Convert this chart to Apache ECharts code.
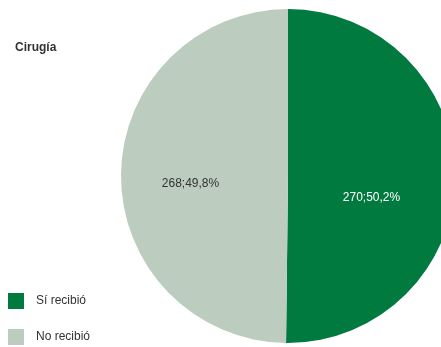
<!DOCTYPE html>
<html>
<head>
<meta charset="utf-8">
<script src="https://cdn.jsdelivr.net/npm/echarts@6/dist/echarts.min.js"></script>
<style>html,body{margin:0;padding:0;background:#fff}#c{width:441px;height:347px}</style>
</head>
<body>
<div id="c"></div>
<script>
const title = 'Cirugía';
const categories = ['Sí recibió', 'No recibió'];
const values = [270, 268];
const colors = ['#007A3F', '#BCCDBF'];
const labelColors = ['#ffffff', '#333333'];
const labelOffsets = [[-3, 21], [-11, 8]];

const font = '"Liberation Sans Narrow", "Liberation Sans", sans-serif';
const legendTops = [293, 329];
const chart = echarts.init(document.getElementById('c'));
chart.setOption({
  animation: false,
  title: {
    text: title, left: 10, top: 37,
    textStyle: { fontFamily: font, fontSize: 12, fontWeight: 'bold', color: '#333' }
  },
  legend: categories.map((n, i) => ({
    orient: 'vertical', left: 8, top: legendTops[i], padding: 0,
    itemWidth: 16, itemHeight: 16,
    icon: 'rect',
    textStyle: { fontFamily: font, fontSize: 12, color: '#333', padding: [3, 0, 0, 7] },
    data: [n]
  })),
  series: [{
    type: 'pie',
    center: [288, 176],
    radius: [0, 167],
    startAngle: 90,
    clockwise: true,
    percentPrecision: 1,
    itemStyle: { borderWidth: 0 },
    label: {
      position: 'inside',
      fontFamily: font, fontSize: 12,
      formatter: p => p.value + ';' + p.percent.toFixed(1).replace('.', ',') + '%'
    },
    labelLine: { show: false },
    emphasis: { disabled: true },
    data: categories.map((n, i) => ({
      name: n, value: values[i],
      itemStyle: { color: colors[i] },
      label: { color: labelColors[i], offset: labelOffsets[i] }
    }))
  }]
});
</script>
</body>
</html>
